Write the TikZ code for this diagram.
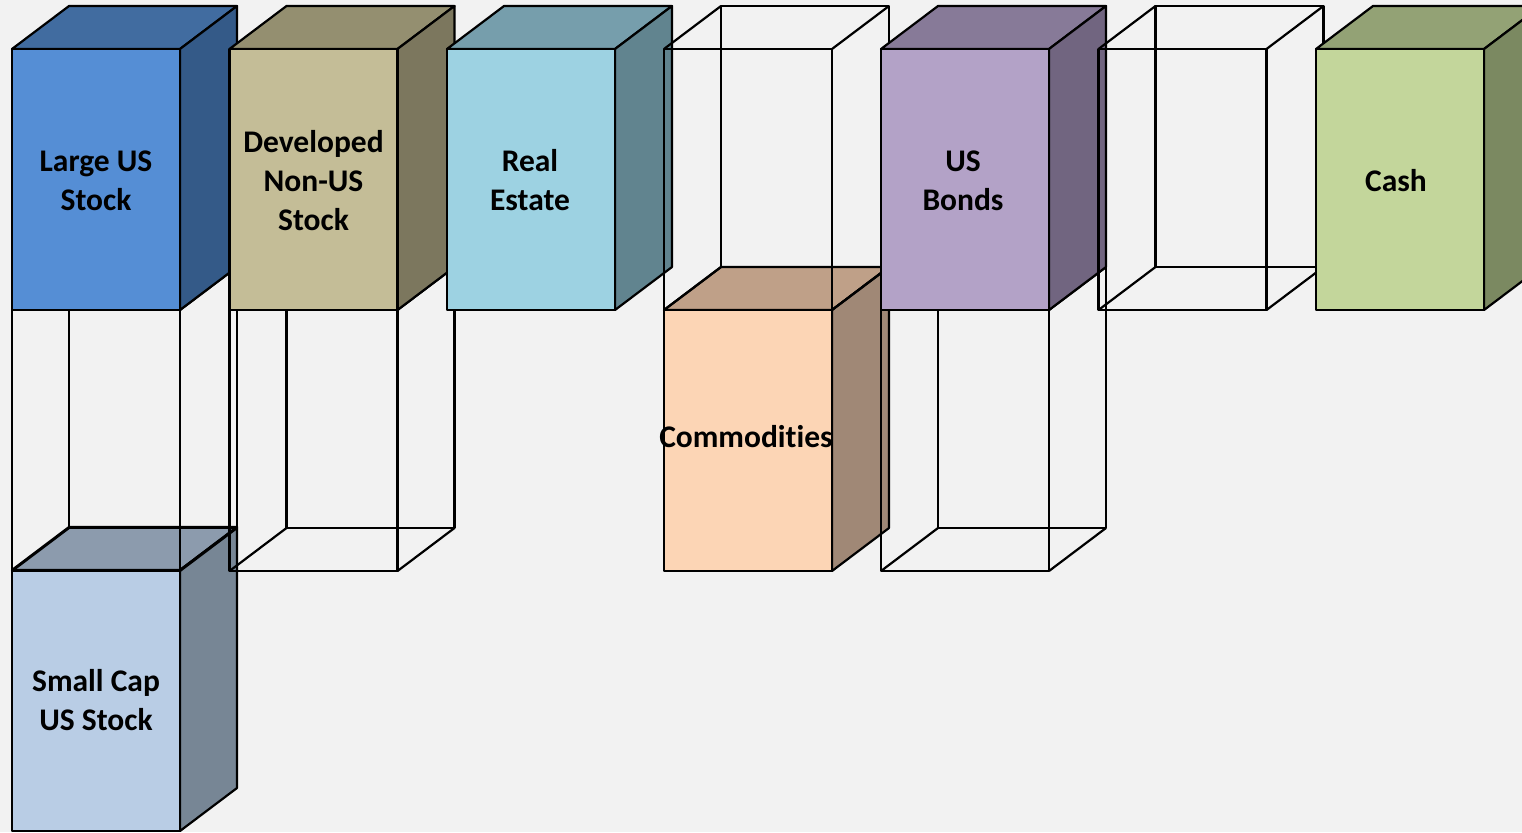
\documentclass[tikz,border=0pt]{standalone}
\usepackage{fontspec}
\setmainfont[Ligatures=NoCommon]{Carlito}
\definecolor{bg}{HTML}{F2F2F2}
\definecolor{lgF}{HTML}{558ED5}\definecolor{lgT}{HTML}{416CA0}\definecolor{lgS}{HTML}{345A88}
\definecolor{dvF}{HTML}{C4BD97}\definecolor{dvT}{HTML}{948F70}\definecolor{dvS}{HTML}{7C775E}
\definecolor{reF}{HTML}{9DD2E2}\definecolor{reT}{HTML}{769EAC}\definecolor{reS}{HTML}{61848F}
\definecolor{cmF}{HTML}{FCD5B5}\definecolor{cmT}{HTML}{BFA088}\definecolor{cmS}{HTML}{A08876}
\definecolor{bdF}{HTML}{B3A2C7}\definecolor{bdT}{HTML}{877A98}\definecolor{bdS}{HTML}{716580}
\definecolor{caF}{HTML}{C3D69B}\definecolor{caT}{HTML}{93A275}\definecolor{caS}{HTML}{7B8961}
\definecolor{scF}{HTML}{B9CDE5}\definecolor{scT}{HTML}{8C9BAD}\definecolor{scS}{HTML}{778695}
\tikzset{
  edge/.style={draw=black, line width=2.2pt, line join=round},
  lbl/.style={align=center, inner sep=0pt, font=\bfseries\fontsize{31.5}{39}\selectfont, text=black},
}
% solid box: x, y (front top-left), front, top, side colours, centre name
\newcommand\solidbox[6]{%
  \filldraw[edge, fill=#4] (#1,#2) -- ++(57,-43) -- ++(168,0) -- ++(-57,43) -- cycle;
  \filldraw[edge, fill=#5] (#1+168,#2) -- ++(57,-43) -- ++(0,261) -- ++(-57,43) -- cycle;
  \filldraw[edge, fill=#3] (#1,#2) rectangle ++(168,261);
  \coordinate (#6) at (#1+84,#2+130.5);
}
% wire box: x, y (front top-left)
\newcommand\wirebox[2]{%
  \draw[edge] (#1,#2) rectangle ++(168,261);
  \draw[edge] (#1+57,#2-43) rectangle ++(168,261);
  \draw[edge] (#1,#2) -- ++(57,-43);
  \draw[edge] (#1+168,#2) -- ++(57,-43);
  \draw[edge] (#1,#2+261) -- ++(57,-43);
  \draw[edge] (#1+168,#2+261) -- ++(57,-43);
}
\begin{document}
\begin{tikzpicture}[x=1pt,y=-1pt]
  \useasboundingbox (0,0) rectangle (1522,832);
  \fill[bg] (0,0) rectangle (1522,832);
  \clip (0,0) rectangle (1522,832);
  % column 1
  \solidbox{12}{570}{scF}{scT}{scS}{small}
  \wirebox{12}{310}
  \solidbox{12}{49}{lgF}{lgT}{lgS}{large}
  % column 2
  \wirebox{229.5}{310}
  \solidbox{229.5}{49}{dvF}{dvT}{dvS}{devel}
  % column 3
  \solidbox{447}{49}{reF}{reT}{reS}{real}
  % column 4
  \solidbox{664}{310}{cmF}{cmT}{cmS}{comm}
  \wirebox{664}{49}
  % column 5
  \wirebox{881}{310}
  \solidbox{881}{49}{bdF}{bdT}{bdS}{bonds}
  % column 6
  \wirebox{1098.5}{49}
  % column 7
  \solidbox{1316}{49}{caF}{caT}{caS}{cash}
  % labels (yshift is in page direction: positive = up)
  \node[lbl] (t-large) at ([yshift=-1pt]large) {Large US\\Stock};
  \node[lbl] (t-devel) at ([yshift=-1pt]devel) {Developed\\Non-US\\Stock};
  \node[lbl] (t-real) at ([xshift=-1pt,yshift=-1pt]real) {Real\\Estate};
  \node[lbl] (t-comm) at ([xshift=-2pt,yshift=4pt]comm) {Commodities};
  \node[lbl] (t-bonds) at ([xshift=-2pt,yshift=-1pt]bonds) {US\\Bonds};
  \node[lbl] (t-cash) at ([xshift=-4pt,yshift=-1pt]cash) {Cash};
  \node[lbl] (t-small) at (small) {Small Cap\\US Stock};
\end{tikzpicture}
\end{document}
